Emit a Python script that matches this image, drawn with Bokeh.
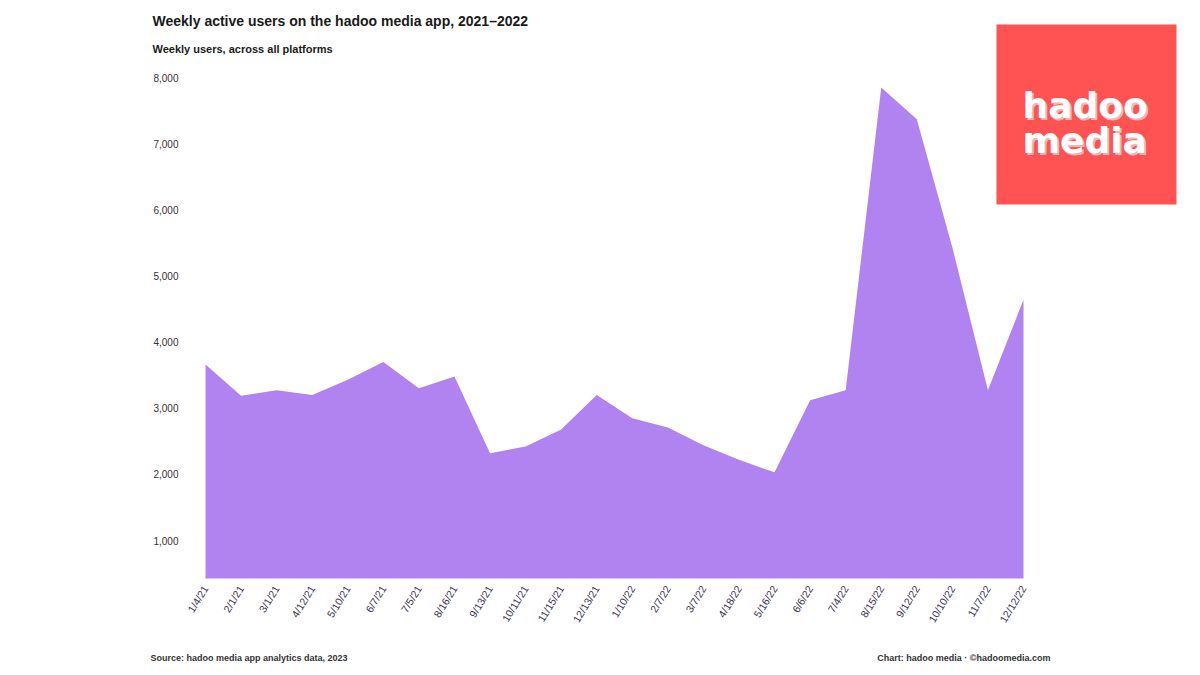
import math
from bokeh.plotting import figure
from bokeh.models import (ColumnDataSource, Range1d, FixedTicker, Label, BoxAnnotation)
from bokeh.embed import file_html
from bokeh.resources import INLINE

# ---------------- data ----------------
dates = ["1/4/21", "2/1/21", "3/1/21", "4/12/21", "5/10/21", "6/7/21",
         "7/5/21", "8/16/21", "9/13/21", "10/11/21", "11/15/21", "12/13/21",
         "1/10/22", "2/7/22", "3/7/22", "4/18/22", "5/16/22", "6/6/22",
         "7/4/22", "8/15/22", "9/12/22", "10/10/22", "11/7/22", "12/12/22"]
users = [3660, 3190, 3270, 3200, 3430, 3700, 3300, 3480, 2320, 2420,
         2680, 3200, 2850, 2710, 2440, 2220, 2030, 3120, 3270, 7850,
         7370, 5430, 3270, 4640]
y_ticks = [1000, 2000, 3000, 4000, 5000, 6000, 7000, 8000]
y_tick_labels = ["1,000", "2,000", "3,000", "4,000", "5,000", "6,000", "7,000", "8,000"]
y_floor = 425

title_text = "Weekly active users on the hadoo media app, 2021\u20132022"
subtitle_text = "Weekly users, across all platforms"
source_text = "Source: hadoo media app analytics data, 2023"
credit_text = "Chart: hadoo media \u00b7 \u00a9hadoomedia.com"

# ---------------- layout constants (pixels) ----------------
W, H = 1200, 675
FRAME_L, FRAME_B = 140, 670          # frame spans x 140..1200, y 0..670
AREA_L, AREA_R = 205, 1023           # where first / last point sit
TICK_TOP_PX, TICK_BOT_PX = 77, 540   # pixel rows of the top / bottom ticks

n = len(users)
step = (AREA_R - AREA_L) / (n - 1)
x_start = -(AREA_L - FRAME_L) / step
x_end = (n - 1) + (W - AREA_R) / step
ppu = (TICK_BOT_PX - TICK_TOP_PX) / (y_ticks[-1] - y_ticks[0])
y_end = y_ticks[-1] + TICK_TOP_PX / ppu
y_start = y_ticks[0] - (FRAME_B - TICK_BOT_PX) / ppu

xs = list(range(n))
src = ColumnDataSource(dict(x=xs, y=users, base=[y_floor] * n))

p = figure(width=W, height=H, output_backend="svg", toolbar_location=None,
           x_range=Range1d(x_start, x_end), y_range=Range1d(y_start, y_end),
           min_border_left=FRAME_L, min_border_right=0,
           min_border_top=0, min_border_bottom=H - FRAME_B,
           background_fill_color="white", border_fill_color="white")
p.outline_line_color = None
p.grid.visible = False

# logo box (drawn underneath the texts)
p.add_layout(BoxAnnotation(left=996, right=1176, top=24, bottom=204,
                           left_units="canvas", right_units="canvas",
                           top_units="canvas", bottom_units="canvas",
                           fill_color="#FF5252", fill_alpha=1.0, line_color=None,
                           level="underlay"))

p.varea(x="x", y1="base", y2="y", source=src, fill_color="#B183F1", fill_alpha=1.0)

# y axis (labels drawn inward)
ya = p.yaxis[0]
ya.ticker = FixedTicker(ticks=y_ticks)
ya.major_label_overrides = {t: l for t, l in zip(y_ticks, y_tick_labels)}
ya.axis_line_color = None
ya.major_tick_line_color = None
ya.minor_tick_line_color = None
ya.major_tick_out = 0
ya.major_tick_in = 0
ya.major_label_standoff = -38
ya.major_label_text_font = "Liberation Sans"
ya.major_label_text_font_size = "10px"
ya.major_label_text_color = "#3a2f3a"

# x axis (labels drawn upward into place)
xa = p.xaxis[0]
xa.ticker = FixedTicker(ticks=xs)
xa.major_label_overrides = {i: d for i, d in zip(xs, dates)}
xa.major_label_orientation = 1.02
xa.axis_line_color = None
xa.major_tick_line_color = None
xa.minor_tick_line_color = None
xa.major_tick_out = 0
xa.major_tick_in = 0
xa.major_label_standoff = -(FRAME_B - 586)
xa.major_label_text_font = "Liberation Sans"
xa.major_label_text_font_size = "10.5px"
xa.major_label_text_color = "#3b3550"


def add_text(cx, cy, text, size, color, style="normal", align="left",
             baseline="middle", font="Liberation Sans"):
    p.add_layout(Label(x=cx, y=cy, x_units="canvas", y_units="canvas",
                       text=text, text_font=font, text_font_size=size,
                       text_color=color, text_font_style=style,
                       text_align=align, text_baseline=baseline))


add_text(152, 20, title_text, "14px", "#1a1a1a", "bold")
add_text(152, 48, subtitle_text, "11px", "#1a1a1a", "bold")
add_text(150, 657, source_text, "9px", "#333333", "bold")
add_text(1050, 657, credit_text, "9px", "#333333", "bold", align="right")

# logo lettering
for dx, col in [(2, "#F5B4B4"), (0, "#FFFFFF")]:
    add_text(1022 + dx, 105 + dx, "hadoo", "36px", col, "bold",
             baseline="alphabetic", font="DejaVu Sans")
    add_text(1022 + dx, 140 + dx, "media", "36px", col, "bold",
             baseline="alphabetic", font="DejaVu Sans")

open("out.html", "w").write(file_html(p, INLINE))
